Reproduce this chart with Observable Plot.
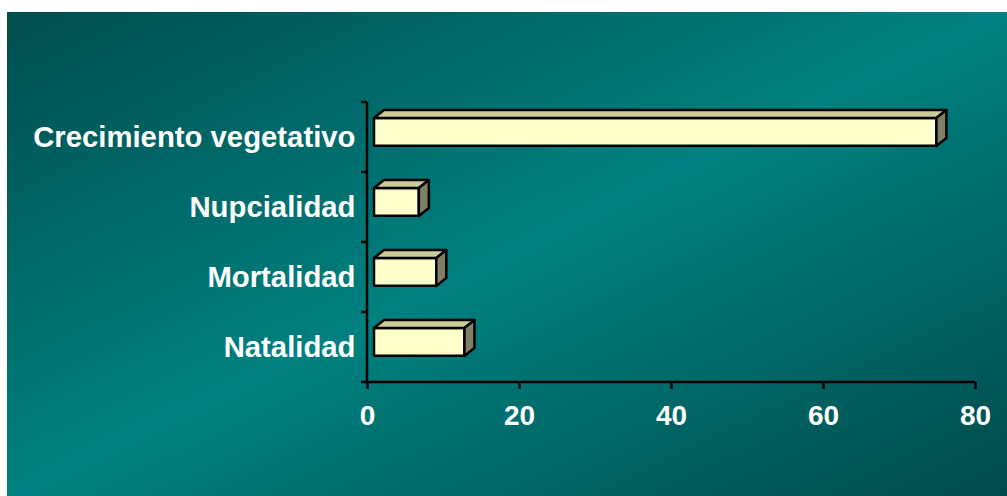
<!DOCTYPE html>
<html>
<head>
<meta charset="utf-8">
<script src="https://cdn.jsdelivr.net/npm/d3@7"></script>
<script src="https://cdn.jsdelivr.net/npm/@observablehq/plot@0.6"></script>
<style>
  html, body { margin: 0; padding: 0; background: #ffffff; }
  #chart { padding: 12px 0 0 7px; }
  #chart svg { display: block; }
</style>
</head>
<body>
<div id="chart"></div>
<script>
// Data
const categories = ["Crecimiento vegetativo", "Nupcialidad", "Mortalidad", "Natalidad"];
const values = [74, 5.9, 8.2, 11.9];
const xTicks = [0, 20, 40, 60, 80];

const data = categories.map((name, i) => ({name, value: values[i]}));

// 3D look parameters
const FRONT_TOP = 16, FRONT_BOTTOM = 44, SHIFT = 7, DEPTH_X = 10, DEPTH_Y = -8, SW = 2.5;

function bandwidthOf(y, dimensions) {
  if (typeof y.bandwidth === "function") return y.bandwidth();
  return (dimensions.height - dimensions.marginTop - dimensions.marginBottom) / categories.length;
}

// Axis lines and band-boundary ticks, drawn from the plot's scales
function axesLines(index, scales, values, dimensions) {
  const x = scales.x, y = scales.y;
  const bw = bandwidthOf(y, dimensions);
  const g = d3.create("svg:g").attr("stroke", "black").attr("stroke-width", SW).attr("fill", "none");
  const x0 = x(0);
  const yTop = y(categories[0]);
  const yBottom = y(categories[categories.length - 1]) + bw;
  g.append("line").attr("x1", x0).attr("x2", x0).attr("y1", yTop).attr("y2", yBottom);
  g.append("line").attr("x1", x0 - 6).attr("x2", x(xTicks[xTicks.length - 1])).attr("y1", yBottom).attr("y2", yBottom);
  categories.forEach(c => {
    const yy = y(c);
    g.append("line").attr("x1", x0 - 6).attr("x2", x0).attr("y1", yy).attr("y2", yy);
  });
  return g.node();
}

// Top and side faces of the 3D bars
function barFaces(index, scales, values, dimensions) {
  const x = scales.x, y = scales.y;
  const g = d3.create("svg:g").attr("stroke", "black").attr("stroke-width", SW).attr("stroke-linejoin", "round");
  data.forEach(d => {
    const xa = x(0) + SHIFT, xb = x(d.value) + SHIFT;
    const yt = y(d.name) + FRONT_TOP, yb = y(d.name) + FRONT_BOTTOM;
    g.append("polygon")
      .attr("fill", "#cccc99")
      .attr("points", [[xa, yt], [xa + DEPTH_X, yt + DEPTH_Y], [xb + DEPTH_X, yt + DEPTH_Y], [xb, yt]].map(p => p.join(",")).join(" "));
    g.append("polygon")
      .attr("fill", "#808066")
      .attr("points", [[xb, yt], [xb + DEPTH_X, yt + DEPTH_Y], [xb + DEPTH_X, yb + DEPTH_Y], [xb, yb]].map(p => p.join(",")).join(" "));
  });
  return g.node();
}

const chart = Plot.plot({
  width: 1000,
  height: 484,
  marginLeft: 360,
  marginRight: 32,
  marginTop: 89,
  marginBottom: 114,
  style: {
    background: "linear-gradient(to bottom right, #004d4d 0%, #008080 50%, #004a4a 100%)",
    color: "white",
    fontFamily: "'Liberation Sans', Arial, sans-serif",
    overflow: "visible"
  },
  x: {domain: [0, 80], ticks: xTicks, label: null},
  y: {domain: categories, padding: 0, label: null},
  marks: [
    Plot.barX(data, {
      x: "value",
      y: "name",
      dx: SHIFT,
      insetTop: FRONT_TOP,
      insetBottom: 70.25 - FRONT_BOTTOM,
      fill: "#ffffcc",
      stroke: "black",
      strokeWidth: SW,
      strokeLinejoin: "round"
    }),
    barFaces,
    axesLines,
    Plot.axisX(xTicks, {
      tickSize: 7,
      tickPadding: 16,
      stroke: "black",
      strokeWidth: SW,
      color: "white",
      fill: "white",
      fontSize: 28,
      fontWeight: "bold",
      label: null
    }),
    Plot.axisY({
      tickSize: 0,
      tickPadding: 12,
      color: "white",
      fill: "white",
      fontSize: 29.3,
      fontWeight: "bold",
      label: null
    })
  ]
});

document.getElementById("chart").appendChild(chart);
</script>
</body>
</html>
